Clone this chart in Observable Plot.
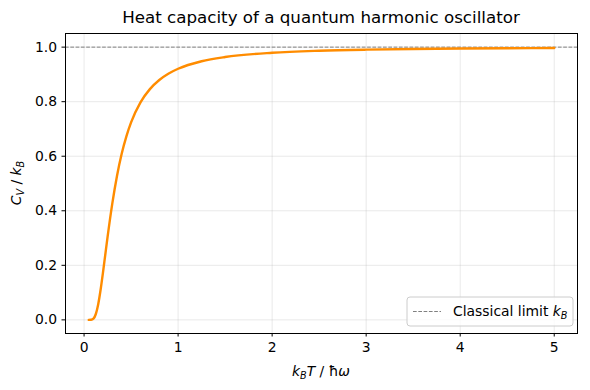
<!DOCTYPE html>
<html><head><meta charset="utf-8">
<script src="https://cdn.jsdelivr.net/npm/d3@7"></script>
<script src="https://cdn.jsdelivr.net/npm/@observablehq/plot@0.6"></script>
<style>body{margin:0;background:#fff}svg{font-family:"DejaVu Sans",sans-serif}</style>
</head><body><div id="c"></div>
<script>
const temps = [0.05,0.075,0.1,0.125,0.15,0.175,0.2,0.225,0.25,0.3,0.35,0.4,0.45,0.5,0.6,0.7,0.8,0.9,1.0,1.25,1.5,2.0,2.5,3.0,3.5,4.0,4.5,5.0];
const heat = [0.0,0.0003,0.0045,0.0215,0.0567,0.1085,0.1707,0.2375,0.3041,0.4262,0.5277,0.6089,0.6731,0.7241,0.7975,0.8460,0.8794,0.9032,0.9207,0.9483,0.9638,0.9794,0.9868,0.9908,0.9932,0.9948,0.9959,0.9967];
const xTicks = [0,1,2,3,4,5];
const yTicks = [0,0.2,0.4,0.6,0.8,1.0];
const classical = [1.0];
const data = temps.map((t,i)=>({t, c: heat[i]}));

const W=590,H=390,ml=65,mr=13,mt=33,mb=57;
const plot = Plot.plot({
  width:W,height:H,marginLeft:ml,marginRight:mr,marginTop:mt,marginBottom:mb,
  style:{fontFamily:"DejaVu Sans",fontSize:"13.9px",color:"#000",background:"#fff"},
  x:{domain:[-0.1975,5.2475],ticks:xTicks,tickFormat:d=>String(d),tickSize:3.5,tickPadding:5,label:null},
  y:{domain:[-0.05,1.05],ticks:yTicks,tickFormat:d3.format(".1f"),tickSize:3.5,tickPadding:5,label:null},
  marks:[
    Plot.gridX(xTicks,{stroke:"#b0b0b0",strokeOpacity:0.35,strokeWidth:0.8}),
    Plot.gridY(yTicks,{stroke:"#b0b0b0",strokeOpacity:0.35,strokeWidth:0.8}),
    Plot.axisX(xTicks,{tickSize:3.5,tickPadding:5,tickFormat:d=>String(d),label:null,fontSize:13.9}),
    Plot.axisY(yTicks,{tickSize:3.5,tickPadding:5,tickFormat:d3.format(".1f"),label:null,fontSize:13.9}),
    Plot.ruleY(classical,{stroke:"#808080",strokeWidth:1,strokeDasharray:"3.7,1.6"}),
    Plot.line(data,{x:"t",y:"c",stroke:"#ff8c00",strokeWidth:2.4,curve:"monotone-x"}),
    Plot.frame({stroke:"#000",strokeWidth:1})
  ]
});
document.getElementById("c").appendChild(plot);
const svg = d3.select(plot);
const fx0=ml, fx1=W-mr, fy0=mt, fy1=H-mb;
// title
svg.append("text").attr("x",(fx0+fx1)/2).attr("y",fy0-10).attr("text-anchor","middle")
  .attr("font-size","16.7px").attr("fill","#000").text("Heat capacity of a quantum harmonic oscillator");
// x label
const xl = svg.append("text").attr("x",(fx0+fx1)/2).attr("y",H-14).attr("text-anchor","middle").attr("font-size","13.9px").attr("fill","#000");
xl.append("tspan").attr("font-style","italic").text("k");
xl.append("tspan").attr("font-style","italic").attr("font-size","9.7px").attr("dy",3).text("B");
xl.append("tspan").attr("font-style","italic").attr("dy",-3).text("T");
xl.append("tspan").text(" / ħ");
xl.append("tspan").attr("font-style","italic").text("ω");
// y label
const yl = svg.append("text").attr("transform",`translate(21,${(fy0+fy1)/2}) rotate(-90)`).attr("text-anchor","middle").attr("font-size","13.9px").attr("fill","#000");
yl.append("tspan").attr("font-style","italic").text("C");
yl.append("tspan").attr("font-style","italic").attr("font-size","9.7px").attr("dy",3).text("V");
yl.append("tspan").attr("dy",-3).text(" / ");
yl.append("tspan").attr("font-style","italic").text("k");
yl.append("tspan").attr("font-style","italic").attr("font-size","9.7px").attr("dy",3).text("B");
// legend
const lx=fx1-170, ly=fy1-36;
svg.append("rect").attr("x",lx).attr("y",ly).attr("width",166).attr("height",29).attr("rx",3)
  .attr("fill","#fff").attr("fill-opacity",0.8).attr("stroke","#ccc").attr("stroke-width",1);
svg.append("line").attr("x1",lx+6).attr("x2",lx+34).attr("y1",ly+14.5).attr("y2",ly+14.5)
  .attr("stroke","#808080").attr("stroke-width",1).attr("stroke-dasharray","3.7,1.6");
const lt = svg.append("text").attr("x",lx+46).attr("y",ly+19).attr("text-anchor","start").attr("font-size","13.9px").attr("fill","#000");
lt.append("tspan").text("Classical limit ");
lt.append("tspan").attr("font-style","italic").text("k");
lt.append("tspan").attr("font-style","italic").attr("font-size","9.7px").attr("dy",3).text("B");
</script></body></html>
